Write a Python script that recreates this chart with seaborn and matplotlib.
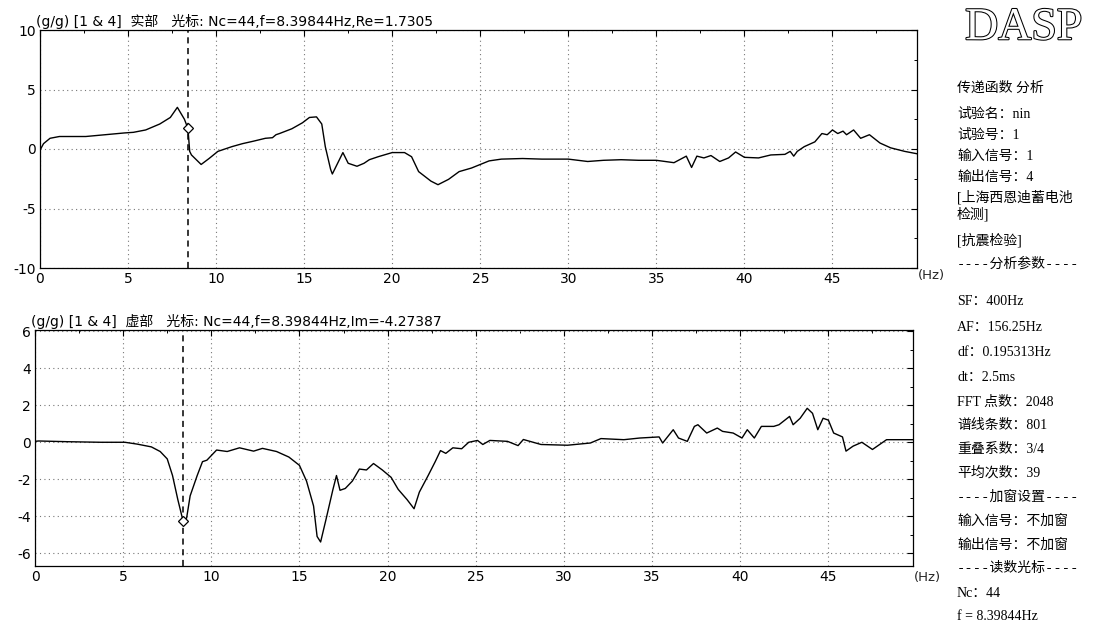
import matplotlib
matplotlib.use("Agg")
import matplotlib.pyplot as plt
import matplotlib.patheffects as pe
from matplotlib.ticker import MultipleLocator
import seaborn as sns
import pandas as pd

# ---------------- data ----------------
freq_re = [0, 0.2, 0.57, 1.1, 2.6, 4.8, 5.3, 6.0, 6.8, 7.4, 7.8, 8.2, 8.4, 8.5, 8.6, 9.15, 9.6, 10.1,
           10.9, 11.5, 12.1, 12.8, 13.2, 13.4, 13.6, 14.3, 14.9, 15.3, 15.7, 16.0, 16.2, 16.5, 16.6,
           16.8, 17.2, 17.5, 18.0, 18.4, 18.7, 19.2, 20.0, 20.7, 21.1, 21.5, 22.2, 22.6, 23.2, 23.8,
           24.5, 25.0, 25.5, 26.2, 27.4, 28.5, 30.0, 31.1, 32.0, 33.0, 34.0, 35.0, 36.0, 36.7, 37.0,
           37.3, 37.7, 38.1, 38.6, 39.1, 39.5, 40.0, 40.8, 41.5, 42.3, 42.6, 42.8, 43.0, 43.4, 44.0,
           44.4, 44.7, 45.0, 45.3, 45.6, 45.8, 46.2, 46.6, 47.1, 47.7, 48.3, 49.1, 49.8]
val_re = [-0.1, 0.45, 0.9, 1.05, 1.05, 1.35, 1.4, 1.6, 2.1, 2.65, 3.5, 2.5, 1.73, -0.2, -0.5, -1.3, -0.8,
          -0.2, 0.2, 0.45, 0.65, 0.9, 0.95, 1.2, 1.3, 1.7, 2.2, 2.65, 2.7, 2.1, 0.2, -1.7, -2.1, -1.5,
          -0.3, -1.2, -1.45, -1.2, -0.9, -0.65, -0.3, -0.3, -0.65, -1.9, -2.7, -3.0, -2.55, -1.9, -1.6,
          -1.3, -1.0, -0.85, -0.8, -0.85, -0.85, -1.05, -0.95, -0.9, -0.95, -0.95, -1.15, -0.6, -1.55,
          -0.6, -0.75, -0.55, -1.05, -0.75, -0.25, -0.7, -0.75, -0.5, -0.45, -0.2, -0.6, -0.2, 0.2, 0.6,
          1.3, 1.2, 1.6, 1.3, 1.5, 1.2, 1.6, 0.9, 1.2, 0.5, 0.1, -0.2, -0.4]

freq_im = [0, 0.2, 1.9, 3.75, 5.1, 5.8, 6.6, 7.1, 7.5, 7.8, 8.1, 8.4, 8.6, 8.8, 9.2, 9.5, 9.75, 10.3,
           10.9, 11.6, 12.4, 12.9, 13.7, 14.4, 15.0, 15.4, 15.8, 16.0, 16.2, 16.5, 16.9, 17.1, 17.3,
           17.6, 18.0, 18.4, 18.8, 19.2, 19.7, 20.2, 20.6, 21.1, 21.5, 21.8, 22.3, 22.7, 23.0, 23.3,
           23.7, 24.2, 24.6, 25.1, 25.4, 25.8, 26.8, 27.4, 27.7, 28.7, 30.2, 31.5, 32.1, 33.4, 34.3,
           35.4, 35.6, 36.2, 36.5, 37.0, 37.4, 37.6, 38.1, 38.7, 39.0, 39.6, 40.1, 40.4, 40.8, 41.2,
           41.9, 42.2, 42.8, 43.0, 43.4, 43.8, 44.1, 44.4, 44.7, 45.0, 45.3, 45.8, 46.0, 46.4, 46.9,
           47.5, 48.3, 49.8]
val_im = [0.05, 0.07, 0.03, 0.0, 0.0, -0.1, -0.25, -0.5, -0.9, -1.8, -3.1, -4.27, -4.1, -2.9, -1.8,
          -1.05, -0.97, -0.42, -0.5, -0.3, -0.48, -0.33, -0.5, -0.8, -1.25, -2.1, -3.45, -5.1, -5.4,
          -4.2, -2.55, -1.8, -2.6, -2.5, -2.1, -1.45, -1.5, -1.15, -1.5, -1.9, -2.55, -3.1, -3.6, -2.7,
          -1.8, -1.05, -0.45, -0.6, -0.3, -0.35, 0.0, 0.1, -0.12, 0.1, 0.05, -0.18, 0.15, -0.12, -0.16,
          -0.04, 0.2, 0.14, 0.23, 0.29, -0.04, 0.68, 0.23, 0.05, 0.86, 0.95, 0.5, 0.77, 0.59, 0.5, 0.23,
          0.68, 0.23, 0.86, 0.86, 0.95, 1.4, 0.95, 1.3, 1.84, 1.57, 0.68, 1.3, 1.2, 0.5, 0.29, -0.48,
          -0.21, 0.0, -0.39, 0.14, 0.14]

cursor_f = 8.39844
cursor_re = 1.7305
cursor_im = -4.27387

title_re = "(g/g) [1 & 4]  实部   光标: Nc=44,f=8.39844Hz,Re=1.7305"
title_im = "(g/g) [1 & 4]  虚部   光标: Nc=44,f=8.39844Hz,Im=-4.27387"

x_ticks = [0, 5, 10, 15, 20, 25, 30, 35, 40, 45]
y_ticks_re = [-10, -5, 0, 5, 10]
y_ticks_im = [-6, -4, -2, 0, 2, 4, 6]

panel_lines = [
    ("传递函数 分析", 88), ("试验名：nin", 114), ("试验号：1", 135), ("输入信号：1", 156),
    ("输出信号：4", 177), ("[上海西恩迪蓄电池", 197), ("检测]", 214), ("[抗震检验]", 240),
    ("----分析参数----", 264), ("SF：400Hz", 301), ("AF：156.25Hz", 327), ("df：0.195313Hz", 352),
    ("dt：2.5ms", 377), ("FFT 点数：2048", 402), ("谱线条数：801", 426), ("重叠系数：3/4", 450),
    ("平均次数：39", 473), ("----加窗设置----", 497), ("输入信号：不加窗", 521),
    ("输出信号：不加窗", 545), ("----读数光标----", 568), ("Nc：44", 593), ("f = 8.39844Hz", 617),
]

# ---------------- style ----------------
sns.set_style("white")
plt.rcParams['font.family'] = ['DejaVu Sans', 'Noto Sans CJK SC']
plt.rcParams['axes.unicode_minus'] = False
FAM_PANEL = ['Liberation Serif', 'Noto Sans CJK SC']
FAM_DASH = ['Liberation Mono', 'Noto Sans CJK SC']

W, H = 1107, 623
fig = plt.figure(figsize=(W / 100, H / 100), dpi=100)
fig.patch.set_facecolor('white')


def px_axes(l, t, r, b):
    return fig.add_axes([l / W, 1 - b / H, (r - l) / W, (b - t) / H])


ax1 = px_axes(40, 30, 917, 268)
ax2 = px_axes(35, 330, 913, 566)

df_re = pd.DataFrame({"f": freq_re, "v": val_re})
df_im = pd.DataFrame({"f": freq_im, "v": val_im})

for ax, df, cval, yt, ylim, ttl, yminor in [
    (ax1, df_re, cursor_re, y_ticks_re, (-10, 10), title_re, 2.5),
    (ax2, df_im, cursor_im, y_ticks_im, (-6.7, 6.08), title_im, 1.0),
]:
    sns.lineplot(data=df, x="f", y="v", ax=ax, color='black', lw=1.0, sort=False)
    ax.axvline(cursor_f, color='black', ls=(0, (4, 3)), lw=1.1)
    ax.plot([cursor_f], [cval], marker='D', ms=5, mfc='white', mec='black', mew=0.9, zorder=5)
    ax.set_xlim(0, 49.8)
    ax.set_ylim(*ylim)
    ax.set_xticks(x_ticks)
    ax.set_yticks(yt)
    ax.xaxis.set_minor_locator(MultipleLocator(2.5))
    ax.yaxis.set_minor_locator(MultipleLocator(yminor))
    ax.tick_params(which='both', direction='in', top=True, right=True, colors='black',
                   labelsize=10, pad=3)
    ax.tick_params(which='major', length=4, width=0.8)
    ax.tick_params(which='minor', length=2.5, width=0.7)
    ax.grid(True, which='major', color='#777777', ls=(0, (1, 3)), lw=0.8)
    ax.set_xlabel("")
    ax.set_ylabel("")
    for s in ax.spines.values():
        s.set_color('black')
        s.set_linewidth(0.9)
    ax.text(-0.005, 1.005, ttl, transform=ax.transAxes, fontsize=10, ha='left', va='bottom',
            color='black')

fig.text(918 / W, 1 - 276 / H, "(Hz)", fontsize=9.5, ha='left', va='center')
fig.text(914 / W, 1 - 578 / H, "(Hz)", fontsize=9.5, ha='left', va='center')

# DASP logo (hollow serif letters)
fig.text(1024 / W, 1 - 28 / H, "DASP", fontsize=33, family='Liberation Serif', ha='center',
         va='center', color='white',
         path_effects=[pe.withStroke(linewidth=1.5, foreground='black')])

for txt, y in panel_lines:
    fam = FAM_DASH if txt.startswith('----') else FAM_PANEL
    fig.text(957 / W, 1 - y / H, txt, fontsize=10, family=fam, ha='left', va='center',
             color='black')

fig.savefig("out.png", dpi=100, facecolor='white')
